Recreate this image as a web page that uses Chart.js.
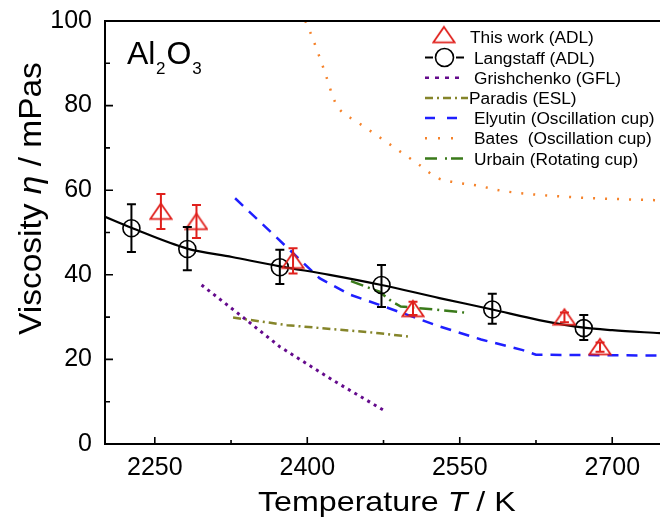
<!DOCTYPE html>
<html><head><meta charset="utf-8">
<script src="https://cdn.jsdelivr.net/npm/chart.js@4.4.1/dist/chart.umd.min.js"></script>
<style>html,body{margin:0;padding:0;background:#fff}#wrap{width:660px;height:521px}</style>
</head><body><div id="wrap"><canvas id="c" width="660" height="521"></canvas></div>
<script>
// ---------- data ----------
const xTicks = [2250, 2400, 2550, 2700];
const xMinorTicks = [2325, 2475, 2625];
const yTicks = [0, 20, 40, 60, 80, 100];
const yMinorTicks = [10, 30, 50, 70, 90];

const thisWorkT = [2256, 2291, 2386, 2504, 2653, 2688];
const thisWorkV = [55.0, 52.6, 43.4, 32.0, 30.0, 23.0];
const thisWorkLow = [50.8, 48.7, 40.3, 30.5, 28.8, 21.8];
const thisWorkHigh = [59.1, 56.5, 46.3, 33.6, 31.1, 24.0];

const langT = [2227, 2282, 2373, 2473, 2582, 2672];
const langV = [51.0, 46.1, 41.8, 37.6, 31.8, 27.4];
const langLow = [45.4, 41.1, 37.8, 32.4, 28.4, 24.6];
const langHigh = [56.7, 51.3, 45.9, 42.3, 35.5, 30.5];

const fitT = [2201, 2227, 2282, 2326, 2373, 2422, 2473, 2530, 2582, 2628, 2672, 2700, 2747];
const fitV = [53.7, 51.1, 46.2, 44.2, 42.0, 40.0, 37.6, 34.5, 31.8, 29.3, 27.5, 26.9, 26.2];

const grishT = [2296, 2336, 2373, 2425, 2475];
const grishV = [37.6, 30.1, 23.0, 15.1, 8.0];

const paradisT = [2327, 2380, 2471, 2499];
const paradisV = [29.9, 28.1, 26.2, 25.4];

const elyutinT = [2329, 2376, 2412, 2442, 2471, 2530, 2571, 2612, 2625, 2747];
const elyutinV = [58.1, 47.4, 39.2, 35.3, 32.9, 27.8, 24.7, 22.2, 21.1, 20.9];

const batesT = [2398, 2403, 2416, 2428, 2435, 2446, 2467, 2488, 2509, 2529, 2542, 2567, 2593, 2658, 2747];
const batesV = [100, 97.3, 88.8, 80.5, 78.3, 76.6, 73.2, 69.7, 66.2, 62.8, 62.0, 61.1, 59.8, 58.4, 57.6];

const urbainT = [2443, 2471, 2483, 2492, 2525, 2557];
const urbainV = [38.5, 36.0, 33.7, 32.5, 31.8, 31.0];

const seriesLabels = ['This work (ADL)', 'Langstaff (ADL)', 'Grishchenko (GFL)', 'Paradis (ESL)',
  'Elyutin (Oscillation cup)', 'Bates  (Oscillation cup)', 'Urbain (Rotating cup)'];

// ---------- styles ----------
const FONT = "'Liberation Sans', Arial, Helvetica, sans-serif";
const RED = '#e0201c', BLACK = '#000000', PURPLE = '#640a8c', OLIVE = '#85852a',
      BLUE = '#1f1fff', ORANGE = '#f5822a', GREEN = '#3a7a1a';

const xy = (t, v) => t.map((x, i) => ({ x, y: v[i] }));

// triangle marker as a canvas image
const tri = document.createElement('canvas');
tri.width = 24; tri.height = 20;
(function () {
  const c = tri.getContext('2d');
  c.strokeStyle = RED; c.lineWidth = 1.8; c.lineJoin = 'miter';
  c.beginPath(); c.moveTo(12, 2.2); c.lineTo(22.6, 17.6); c.lineTo(1.4, 17.6); c.closePath(); c.stroke();
})();

// ---------- plugins ----------
const errorBars = {
  id: 'errorBars',
  afterDatasetsDraw(chart) {
    const { ctx, scales: { x, y } } = chart;
    chart.data.datasets.forEach(ds => {
      if (!ds.errLow) return;
      ctx.save();
      ctx.strokeStyle = ds.errColor; ctx.lineWidth = 2; ctx.lineCap = 'butt';
      ds.data.forEach((p, i) => {
        const px = x.getPixelForValue(p.x);
        const yl = y.getPixelForValue(ds.errLow[i]);
        const yh = y.getPixelForValue(ds.errHigh[i]);
        ctx.beginPath();
        ctx.moveTo(px, yl); ctx.lineTo(px, yh);
        ctx.moveTo(px - 4.5, yl); ctx.lineTo(px + 4.5, yl);
        ctx.moveTo(px - 4.5, yh); ctx.lineTo(px + 4.5, yh);
        ctx.stroke();
      });
      ctx.restore();
    });
  }
};

function drawRuns(ctx, runs, x, y, sx) {
  ctx.save();
  ctx.translate(x, y);
  ctx.scale(sx, 1);
  let cx = 0;
  runs.forEach(r => {
    ctx.font = (r.italic ? 'italic ' : '') + r.size + 'px ' + FONT;
    ctx.fillText(r.t, cx, r.dy || 0);
    cx += ctx.measureText(r.t).width + (r.gap || 0);
  });
  ctx.restore();
}

const frame = {
  id: 'frame',
  afterDraw(chart) {
    const { ctx, chartArea: a, scales: { x, y } } = chart;
    ctx.save();
    ctx.strokeStyle = BLACK; ctx.lineWidth = 2;
    ctx.beginPath();
    ctx.moveTo(a.left, a.top); ctx.lineTo(a.left, a.bottom + 1);
    ctx.moveTo(a.left - 1, a.bottom); ctx.lineTo(a.right, a.bottom);
    ctx.moveTo(a.left - 1, a.top); ctx.lineTo(a.right, a.top);
    ctx.stroke();
    ctx.lineWidth = 1.6;
    ctx.beginPath();
    xTicks.forEach(v => { const p = x.getPixelForValue(v); ctx.moveTo(p, a.bottom); ctx.lineTo(p, a.bottom - 7); });
    xMinorTicks.forEach(v => { const p = x.getPixelForValue(v); ctx.moveTo(p, a.bottom); ctx.lineTo(p, a.bottom - 4); });
    yTicks.forEach(v => { const p = y.getPixelForValue(v); ctx.moveTo(a.left, p); ctx.lineTo(a.left + 8, p); });
    yMinorTicks.forEach(v => { const p = y.getPixelForValue(v); ctx.moveTo(a.left, p); ctx.lineTo(a.left + 5, p); });
    ctx.stroke();

    // titles
    ctx.fillStyle = BLACK; ctx.textBaseline = 'alphabetic'; ctx.textAlign = 'left';
    drawRuns(ctx, [{ t: 'Temperature ', size: 28 }, { t: 'T', size: 28, italic: true }, { t: ' / K', size: 28 }], 258, 511, 1.15);
    ctx.save();
    ctx.translate(41, 335); ctx.rotate(-Math.PI / 2);
    drawRuns(ctx, [{ t: 'Viscosity ', size: 31 }, { t: 'η', size: 31, italic: true }, { t: ' / mPas', size: 31 }], 0, 0, 1.08);
    ctx.restore();
    drawRuns(ctx, [{ t: 'Al', size: 32, gap: 0.5 }, { t: '2', size: 17, dy: 10.5, gap: 1 }, { t: 'O', size: 32, gap: 1 }, { t: '3', size: 17, dy: 10.5 }], 127, 63.5, 1);

    // legend
    const rows = [36.7, 57.5, 77.7, 97.9, 118.1, 138.3, 158.5];
    const textX = [470, 474, 474, 469, 474, 474, 474];
    const L = 425;
    rows.forEach((ry, i) => {
      ctx.save();
      ctx.lineCap = 'butt';
      if (i === 0) {
        ctx.drawImage(tri, 444 - tri.width / 2, ry - 2 - tri.height / 2);
      } else if (i === 1) {
        ctx.strokeStyle = BLACK; ctx.lineWidth = 2;
        ctx.beginPath(); ctx.moveTo(L, ry); ctx.lineTo(L + 8, ry); ctx.moveTo(L + 31, ry); ctx.lineTo(L + 39, ry); ctx.stroke();
        ctx.lineWidth = 1.6;
        ctx.beginPath(); ctx.arc(L + 19.5, ry, 9, 0, Math.PI * 2); ctx.stroke();
      } else {
        const spec = [null, null,
          { c: PURPLE, w: 2.5, d: [4, 6], e: 36 },
          { c: OLIVE, w: 2.5, d: [8, 4, 2, 4], e: 43 },
          { c: BLUE, w: 2.5, d: [10, 12], e: 32 },
          { c: ORANGE, w: 2.5, d: [2, 11], e: 30 },
          { c: GREEN, w: 2.5, d: [12, 8, 2, 4], e: 38 }][i];
        ctx.strokeStyle = spec.c; ctx.lineWidth = spec.w; ctx.setLineDash(spec.d);
        ctx.beginPath(); ctx.moveTo(L, ry); ctx.lineTo(L + spec.e, ry); ctx.stroke();
      }
      ctx.restore();
      ctx.fillStyle = BLACK;
      drawRuns(ctx, [{ t: seriesLabels[i], size: 16 }], textX[i], ry + 6, 1.08);
    });
    ctx.restore();
  }
};

// ---------- chart ----------
const lineDs = (label, t, v, color, width, dash, extra) => Object.assign({
  label, data: xy(t, v), borderColor: color, borderWidth: width, borderDash: dash,
  pointRadius: 0, fill: false, tension: 0, borderCapStyle: 'butt'
}, extra || {});

new Chart(document.getElementById('c').getContext('2d'), {
  type: 'line',
  data: {
    datasets: [
      { label: seriesLabels[0], data: xy(thisWorkT, thisWorkV), showLine: false, pointStyle: tri,
        pointRadius: 10, borderColor: RED, backgroundColor: 'transparent',
        errLow: thisWorkLow, errHigh: thisWorkHigh, errColor: RED },
      { label: seriesLabels[1], data: xy(langT, langV), showLine: false, pointStyle: 'circle',
        pointRadius: 8.5, pointBorderWidth: 1.6, borderColor: BLACK, pointBorderColor: BLACK,
        backgroundColor: 'transparent', pointBackgroundColor: 'transparent',
        errLow: langLow, errHigh: langHigh, errColor: BLACK },
      lineDs('Langstaff fit', fitT, fitV, BLACK, 2.2, [], { cubicInterpolationMode: 'monotone' }),
      lineDs(seriesLabels[2], grishT, grishV, PURPLE, 3, [3, 4.5]),
      lineDs(seriesLabels[3], paradisT, paradisV, OLIVE, 2.5, [8, 4, 2, 4]),
      lineDs(seriesLabels[4], elyutinT, elyutinV, BLUE, 2.5, [11, 8]),
      lineDs(seriesLabels[5], batesT, batesV, ORANGE, 2.5, [2, 10], { cubicInterpolationMode: 'monotone' }),
      lineDs(seriesLabels[6], urbainT, urbainV, GREEN, 2.5, [13, 5, 2, 5])
    ]
  },
  options: {
    responsive: false, animation: false, devicePixelRatio: 1,
    layout: { autoPadding: false, padding: { top: 21, right: 0, left: 0, bottom: 0 } },
    plugins: { legend: { display: false }, tooltip: { enabled: false }, title: { display: false } },
    scales: {
      x: {
        type: 'linear', min: 2201, max: 2747,
        afterBuildTicks: s => { s.ticks = xTicks.map(v => ({ value: v })); },
        afterFit: s => { s.height = 77; s.paddingRight = 0; s.paddingLeft = 0; },
        grid: { display: false, drawTicks: false }, border: { display: false },
        ticks: { font: { family: FONT, size: 25 }, color: BLACK, padding: 9, maxRotation: 0, autoSkip: false,
          callback: v => String(v) }
      },
      y: {
        type: 'linear', min: 0, max: 100,
        afterBuildTicks: s => { s.ticks = yTicks.map(v => ({ value: v })); },
        afterFit: s => { s.width = 105; s.paddingTop = 0; s.paddingBottom = 0; },
        grid: { display: false, drawTicks: false }, border: { display: false },
        ticks: { font: { family: FONT, size: 25 }, color: BLACK, padding: 13, autoSkip: false,
          callback: v => String(v) }
      }
    }
  },
  plugins: [errorBars, frame]
});
</script>
</body></html>
